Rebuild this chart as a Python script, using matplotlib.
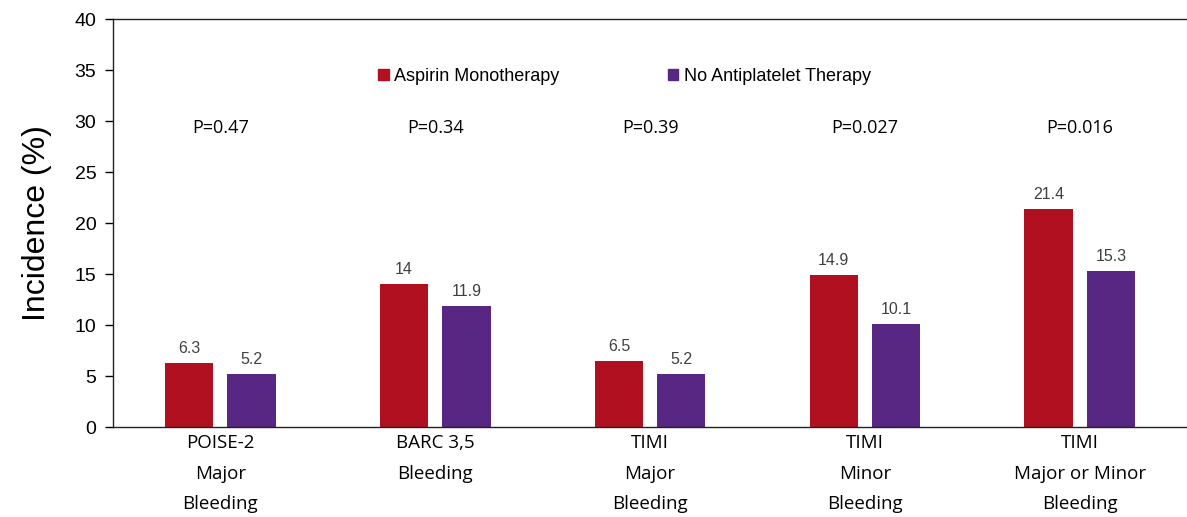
import numpy as np
from matplotlib import pyplot as plt
from matplotlib.patches import Patch

categories = ['POISE-2\nMajor\nBleeding', 'BARC 3,5\nBleeding', 'TIMI\nMajor\nBleeding',
              'TIMI\nMinor\nBleeding', 'TIMI\nMajor or Minor\nBleeding']
aspirin = [6.3, 14, 6.5, 14.9, 21.4]
no_antiplatelet = [5.2, 11.9, 5.2, 10.1, 15.3]
p_values = ['P=0.47', 'P=0.34', 'P=0.39', 'P=0.027', 'P=0.016']
series_names = ['Aspirin Monotherapy', 'No Antiplatelet Therapy']

red = '#B01020'
purple = '#582683'

fig = plt.figure(figsize=(11.87, 5.17), dpi=100)
ax = fig.add_axes([0.0952, 0.174, 0.905, 0.789])

x = np.arange(len(categories))
w = 0.225
off = 0.145
ax.bar(x - off, aspirin, w, color=red)
ax.bar(x + off, no_antiplatelet, w, color=purple)

for xi, a, b in zip(x, aspirin, no_antiplatelet):
    ax.text(xi - off, a + 0.7, f'{a:g}', ha='center', va='bottom', fontsize=11.5,
            color='#404040', family='Liberation Sans')
    ax.text(xi + off, b + 0.7, f'{b:g}', ha='center', va='bottom', fontsize=11.5,
            color='#404040', family='Liberation Sans')

for xi, p in zip(x, p_values):
    ax.text(xi, 29.3, p, ha='center', va='center', fontsize=13, family='Open Sans')

ax.set_xlim(-0.5, 4.5)
ax.set_ylim(0, 40)
ax.set_yticks(range(0, 41, 5))
ax.tick_params(axis='y', labelsize=14, length=6, width=1, pad=6)
for t in ax.get_yticklabels():
    t.set_family('Liberation Sans')
ax.set_xticks(x)
ax.set_xticklabels(categories, fontsize=13.5, family='Open Sans', linespacing=1.9)
ax.tick_params(axis='x', length=0, pad=5)

ax.set_ylabel('Incidence (%)', fontsize=23, family='Liberation Sans', labelpad=16)

ax.spines['right'].set_visible(False)
for s in ['left', 'top', 'bottom']:
    ax.spines[s].set_linewidth(1.0)
    ax.spines[s].set_color('#222222')

handles = [Patch(color=red), Patch(color=purple)]
ax.legend(handles, series_names, loc='center', bbox_to_anchor=(0.476, 0.86), ncol=2,
          frameon=False, handlelength=0.6, handleheight=0.6, handletextpad=0.3,
          columnspacing=6.0, prop={'family': 'Liberation Sans', 'size': 13})

fig.savefig('out.png', dpi=100)
